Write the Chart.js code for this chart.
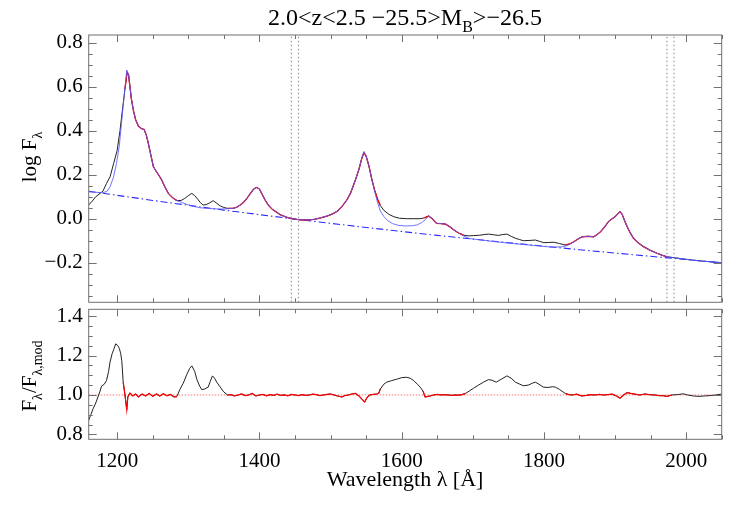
<!DOCTYPE html>
<html>
<head>
<meta charset="utf-8">
<script src="https://cdn.jsdelivr.net/npm/chart.js@4.4.1/dist/chart.umd.min.js"></script>
<style>
  html, body { margin: 0; padding: 0; background: #fff; }
  #wrap { position: relative; width: 736px; height: 507px; }
  #top { position: absolute; left: 0; top: 0; }
  #bot { position: absolute; left: 0; top: 305px; }
</style>
</head>
<body>
<div id="wrap">
  <canvas id="top" width="736" height="305"></canvas>
  <canvas id="bot" width="736" height="202"></canvas>
</div>
<script>
// composite spectrum (log F_lambda)
const specWave = [
  1160, 1165, 1170, 1176, 1180, 1185, 1190, 1195, 1200, 1204,
  1208, 1211, 1214, 1216, 1218, 1220, 1223, 1226, 1230, 1234,
  1238, 1241, 1244, 1248, 1251, 1256, 1262, 1267, 1272, 1278,
  1284, 1290, 1295, 1300, 1305, 1309, 1313, 1317, 1321, 1325,
  1329, 1335, 1340, 1345, 1350, 1355, 1363, 1368, 1373, 1378,
  1383, 1388, 1392, 1396, 1400, 1404, 1408, 1413, 1418, 1424,
  1430, 1437, 1443, 1452, 1462, 1470, 1477, 1485, 1495, 1503,
  1510, 1516, 1523, 1528, 1535, 1540, 1544, 1547, 1550, 1554,
  1558, 1562, 1566, 1570, 1575, 1582, 1589, 1597, 1607, 1617,
  1626, 1632, 1638, 1643, 1649, 1655, 1661, 1667, 1673, 1680,
  1687, 1694, 1701, 1710, 1716, 1722, 1729, 1736, 1742, 1748,
  1754, 1760, 1766, 1771, 1779, 1788, 1794, 1800, 1807, 1814,
  1822, 1830, 1836, 1842, 1848, 1854, 1862, 1870, 1875, 1880,
  1886, 1891, 1896, 1900, 1904, 1907, 1910, 1913, 1917, 1921,
  1926, 1932, 1940, 1949, 1959, 1966, 1973, 1985, 1996, 2008,
  2020, 2035, 2050
];
const specFlux = [
  0.062, 0.08, 0.10, 0.115, 0.125, 0.16, 0.19, 0.25, 0.31, 0.40,
  0.51, 0.59, 0.665, 0.655, 0.60, 0.545, 0.49, 0.45, 0.42, 0.41,
  0.405, 0.38, 0.34, 0.28, 0.236, 0.21, 0.18, 0.145, 0.115, 0.095,
  0.082, 0.083, 0.092, 0.105, 0.115, 0.105, 0.09, 0.073, 0.062, 0.064,
  0.07, 0.082, 0.07, 0.058, 0.051, 0.047, 0.047, 0.052, 0.062, 0.075,
  0.095, 0.118, 0.135, 0.142, 0.135, 0.11, 0.085, 0.06, 0.043, 0.03,
  0.017, 0.008, 0.002, -0.003, -0.006, -0.005, -0.003, 0.003, 0.012, 0.022,
  0.035, 0.055, 0.085, 0.115, 0.176, 0.225, 0.275, 0.30, 0.285, 0.24,
  0.18, 0.13, 0.09, 0.06, 0.038, 0.02, 0.009, 0.002, 0.0, 0.0,
  0.0, 0.004, 0.012, 0.0, -0.021, -0.022, -0.024, -0.035, -0.05, -0.065,
  -0.075, -0.078, -0.077, -0.075, -0.072, -0.07, -0.073, -0.076, -0.072, -0.07,
  -0.08, -0.089, -0.095, -0.10, -0.099, -0.097, -0.103, -0.109, -0.108, -0.107,
  -0.113, -0.12, -0.115, -0.105, -0.092, -0.082, -0.08, -0.082, -0.072, -0.058,
  -0.035, -0.012, 0.0, 0.009, 0.022, 0.032, 0.02, -0.005, -0.036, -0.062,
  -0.089, -0.108, -0.127, -0.143, -0.157, -0.166, -0.173, -0.178, -0.183, -0.188,
  -0.192, -0.196, -0.2
];

// full model (continuum + lines)
const modelWave = [
  1160, 1170, 1180, 1186, 1190, 1195, 1199, 1203, 1206, 1209,
  1211.5, 1213.5, 1216, 1218, 1220, 1223, 1226, 1230, 1234, 1238,
  1241, 1244, 1248, 1251, 1256, 1262, 1267, 1272, 1278, 1284,
  1290, 1298, 1306, 1316, 1326, 1336, 1346, 1355, 1363, 1368,
  1373, 1378, 1383, 1388, 1392, 1396, 1400, 1404, 1408, 1413,
  1418, 1424, 1430, 1437, 1443, 1452, 1462, 1470, 1477, 1485,
  1495, 1503, 1510, 1516, 1523, 1528, 1535, 1540, 1544, 1547,
  1550, 1554, 1558, 1562, 1566, 1570, 1575, 1580, 1587, 1595,
  1605, 1615, 1622, 1628, 1633, 1638, 1643, 1649, 1655, 1661,
  1667, 1673, 1680, 1687, 1695, 1710, 1730, 1750, 1770, 1790,
  1810, 1825, 1832, 1836, 1842, 1848, 1854, 1862, 1870, 1875,
  1880, 1886, 1891, 1896, 1900, 1904, 1907, 1910, 1913, 1917,
  1921, 1926, 1932, 1940, 1949, 1959, 1966, 1973, 1985, 1996,
  2008, 2020, 2035, 2050
];
const modelFlux = [
  0.122, 0.12, 0.118, 0.125, 0.145, 0.19, 0.25, 0.33, 0.43, 0.53,
  0.61, 0.676, 0.655, 0.60, 0.545, 0.49, 0.45, 0.42, 0.41, 0.405,
  0.38, 0.34, 0.28, 0.236, 0.21, 0.18, 0.145, 0.115, 0.095, 0.082,
  0.075, 0.065, 0.057, 0.05, 0.047, 0.045, 0.044, 0.045, 0.047, 0.052,
  0.062, 0.075, 0.095, 0.118, 0.135, 0.142, 0.135, 0.11, 0.085, 0.06,
  0.043, 0.03, 0.017, 0.008, 0.002, -0.003, -0.006, -0.005, -0.003, 0.003,
  0.012, 0.022, 0.035, 0.055, 0.085, 0.115, 0.176, 0.225, 0.275, 0.305,
  0.285, 0.24, 0.18, 0.125, 0.075, 0.035, 0.01, -0.008, -0.022, -0.03,
  -0.033, -0.032, -0.028, -0.018, -0.005, 0.012, 0.0, -0.021, -0.022, -0.024,
  -0.035, -0.05, -0.065, -0.078, -0.09, -0.096, -0.104, -0.111, -0.117, -0.123,
  -0.129, -0.128, -0.123, -0.117, -0.105, -0.092, -0.082, -0.08, -0.082, -0.072,
  -0.058, -0.035, -0.012, 0.0, 0.009, 0.022, 0.034, 0.02, -0.005, -0.036,
  -0.062, -0.089, -0.108, -0.127, -0.143, -0.157, -0.166, -0.173, -0.178, -0.183,
  -0.188, -0.192, -0.196, -0.2
];

// power-law continuum (dash-dot)
const contWave = [1160, 1250, 1350, 1450, 1550, 1650, 1750, 1850, 1950, 2050];
const contFlux = [0.125, 0.083, 0.039, -0.002, -0.04, -0.076, -0.109, -0.141, -0.171, -0.2];

// data / model ratio (lower panel)
const ratioWave = [
  1160, 1163, 1166.5, 1170, 1173.5, 1176, 1178, 1182, 1185, 1188,
  1190, 1193, 1195, 1198, 1201, 1203, 1205, 1206.5, 1208.5, 1211,
  1213.5, 1215, 1218, 1222, 1226, 1230, 1235, 1240, 1245, 1250,
  1255, 1260, 1265, 1270, 1275, 1280, 1284, 1288, 1293, 1298,
  1302, 1305, 1309, 1312, 1316, 1319, 1323, 1328, 1331, 1334,
  1337, 1340, 1345, 1349, 1355, 1360, 1365, 1370, 1375, 1380,
  1385, 1390, 1395, 1400, 1405, 1410, 1415, 1420, 1425, 1430,
  1435, 1440, 1445, 1450, 1455, 1460, 1465, 1470, 1475, 1480,
  1485, 1490, 1495, 1500, 1505, 1510, 1516, 1520, 1525, 1530,
  1535, 1540, 1545, 1548, 1551, 1555, 1560, 1565, 1568, 1570,
  1575, 1579, 1586, 1593, 1600, 1607, 1612, 1617, 1622, 1626,
  1630, 1633, 1637, 1640, 1645, 1650, 1655, 1660, 1665, 1670,
  1675, 1680, 1685, 1690, 1695, 1701, 1708, 1715, 1722, 1727,
  1733, 1740, 1748, 1754, 1760, 1766, 1771, 1778, 1784, 1788,
  1793, 1799, 1806, 1812, 1816, 1822, 1827, 1830, 1835, 1840,
  1846, 1853, 1860, 1866, 1872, 1878, 1884, 1890, 1896, 1902,
  1907, 1912, 1917, 1922, 1928, 1935, 1942, 1948, 1955, 1962,
  1968, 1973, 1980, 1988, 1996, 2002, 2010, 2018, 2026, 2034,
  2042, 2050
];
const ratioVal = [
  0.871, 0.90, 0.933, 0.96, 0.995, 1.02, 1.045, 1.055, 1.073, 1.12,
  1.167, 1.21, 1.229, 1.26, 1.25, 1.237, 1.21, 1.175, 1.065, 1.0,
  0.925, 0.99, 1.01, 0.995, 1.005, 0.99, 1.005, 0.995, 1.008, 0.993,
  1.005, 0.995, 1.006, 0.996, 1.003, 0.99, 0.992, 1.027, 1.06, 1.105,
  1.135, 1.148, 1.12, 1.08, 1.045, 1.027, 1.03, 1.04, 1.07, 1.097,
  1.085, 1.065, 1.04, 1.019, 1.0, 1.002, 0.995, 1.0, 1.005, 0.997,
  1.0, 1.008, 0.995, 1.0, 1.003, 0.996, 1.002, 0.998, 1.004, 0.998,
  1.0, 0.996, 1.003, 1.0, 0.997, 1.002, 0.998, 1.0, 1.004, 1.002,
  0.997, 1.0, 1.003, 1.005, 1.0, 0.995, 0.99, 0.997, 1.0, 1.005,
  1.008, 0.995, 0.975, 0.964, 0.985, 1.0, 1.003, 1.005, 1.01, 1.03,
  1.055, 1.065, 1.073, 1.08, 1.088, 1.09, 1.085, 1.073, 1.055, 1.04,
  1.02, 0.99, 0.993, 0.995, 1.0, 1.003, 1.0, 1.002, 1.0, 0.998,
  1.0, 0.999, 1.002, 1.008, 1.02, 1.034, 1.05, 1.065, 1.078, 1.075,
  1.065, 1.08, 1.097, 1.085, 1.065, 1.055, 1.047, 1.05, 1.06, 1.065,
  1.055, 1.04, 1.038, 1.042, 1.04, 1.028, 1.015, 1.008, 1.002, 1.0,
  1.004, 0.995, 0.998, 1.002, 1.0, 1.003, 1.0, 1.002, 1.004, 0.995,
  0.984, 1.0, 1.012, 1.008, 1.004, 1.0, 1.005, 1.002, 1.0, 0.997,
  0.996, 0.993, 1.0, 1.002, 1.006, 1.0, 0.995, 0.993, 0.995, 0.997,
  1.0, 1.005
];

// wavelength windows used in the fit (drawn red) and continuum windows (dotted)
const fitWindows = [[1208.5, 1284], [1355, 1570], [1630, 1690], [1830, 1982]];
const contWindowLines = [1445, 1455, 1973, 1983];

const xTicks = [1200, 1400, 1600, 1800, 2000];
const topTicks = [-0.2, 0.0, 0.2, 0.4, 0.6, 0.8];
const botTicks = [0.8, 1.0, 1.2, 1.4];

const X_MIN = 1160, X_MAX = 2050;
const TOP_MIN = -0.38, TOP_MAX = 0.835;
const BOT_MIN = 0.775, BOT_MAX = 1.435;

const SERIF = '"Liberation Serif", "Times New Roman", serif';

const pts = (xs, ys) => xs.map((x, i) => ({ x: x, y: ys[i] }));
const inFit = w => fitWindows.some(([a, b]) => w >= a && w <= b);
const fitOnly = (xs, ys) => xs.map((x, i) => ({ x: x, y: inFit(x) ? ys[i] : null }));
const fmt = v => v.toFixed(1).replace('-', '\u2212');

// no extra room for the end labels: the plot box is placed by hand
const fixWidth = w => s => { s.width = w; s.paddingTop = 0; s.paddingBottom = 0; };
const fixHeight = h => s => { s.height = h; s.paddingLeft = 0; s.paddingRight = 0; };

// draw a string made of normal / subscript pieces, centred on (x, y)
function richText(ctx, parts, x, y, size, vertical) {
  ctx.save();
  ctx.translate(x, y);
  if (vertical) ctx.rotate(-Math.PI / 2);
  ctx.fillStyle = '#000';
  ctx.textBaseline = 'alphabetic';
  ctx.textAlign = 'left';
  const fontOf = sub => (sub ? Math.round(size * 0.68) : size) + 'px ' + SERIF;
  let w = 0;
  parts.forEach(([t, sub]) => { ctx.font = fontOf(sub); w += ctx.measureText(t).width; });
  let cx = -w / 2;
  parts.forEach(([t, sub]) => {
    ctx.font = fontOf(sub);
    ctx.fillText(t, cx, sub ? size * 0.28 : 0);
    cx += ctx.measureText(t).width;
  });
  ctx.restore();
}

// IDL style box with inward ticks on all four sides
const boxTicks = {
  id: 'boxTicks',
  afterDatasetsDraw(chart) {
    const { ctx, chartArea: a } = chart;
    const x = chart.scales.x, y = chart.scales.y;
    ctx.save();
    ctx.strokeStyle = '#707070';
    ctx.lineWidth = 1;
    ctx.strokeRect(a.left, a.top, a.right - a.left, a.bottom - a.top);
    ctx.beginPath();
    for (let k = Math.ceil(x.min / 50); k * 50 <= x.max; k++) {
      const px = Math.round(x.getPixelForValue(k * 50)) + 0.5;
      const len = k % 4 === 0 ? 7 : 4;
      ctx.moveTo(px, a.bottom); ctx.lineTo(px, a.bottom - len);
      ctx.moveTo(px, a.top); ctx.lineTo(px, a.top + len);
    }
    for (let k = Math.ceil(y.min / 0.05 - 1e-6); k * 0.05 <= y.max + 1e-6; k++) {
      const py = Math.round(y.getPixelForValue(k * 0.05)) + 0.5;
      const len = k % 4 === 0 ? 8 : 4;
      ctx.moveTo(a.left, py); ctx.lineTo(a.left + len, py);
      ctx.moveTo(a.right, py); ctx.lineTo(a.right - len, py);
    }
    ctx.stroke();
    ctx.restore();
  }
};

const labelsTop = {
  id: 'labelsTop',
  afterDraw(chart) {
    const ctx = chart.ctx;
    richText(ctx, [['2.0<z<2.5 \u221225.5>M', false], ['B', true], ['>\u221226.5', false]], 405, 25, 24, false);
    richText(ctx, [['log F', false], ['\u03bb', true]], 36, 157, 21, true);
  }
};

const labelsBot = {
  id: 'labelsBot',
  afterDraw(chart) {
    const ctx = chart.ctx;
    richText(ctx, [['F', false], ['\u03bb', true], ['/F', false], ['\u03bb,mod', true]], 36, 71, 21, true);
    richText(ctx, [['Wavelength \u03bb [\u00c5]', false]], 405, 181, 22, false);
  }
};

const lineDs = (label, data, color, width, extra) => Object.assign({
  label: label,
  data: data,
  borderColor: color,
  borderWidth: width,
  pointRadius: 0,
  tension: 0,
  fill: false,
  spanGaps: false
}, extra || {});

const vLines = (ymin, ymax) => contWindowLines.map(w =>
  lineDs('win' + w, [{ x: w, y: ymin }, { x: w, y: ymax }], '#9a9a9a', 1.2, { borderDash: [1.5, 2.5] }));

// --- upper panel ---
new Chart(document.getElementById('top'), {
  type: 'line',
  data: {
    datasets: [
      lineDs('model', pts(modelWave, modelFlux), 'rgba(90,90,255,0.85)', 1),
      lineDs('fit', fitOnly(specWave, specFlux), '#ff0000', 1.3),
      lineDs('continuum', pts(contWave, contFlux), '#2a2aff', 1.1, { borderDash: [7, 3, 1.5, 3] }),
      lineDs('data', pts(specWave, specFlux), '#222222', 1),
      ...vLines(TOP_MIN, TOP_MAX)
    ]
  },
  options: {
    responsive: false,
    animation: false,
    devicePixelRatio: 1,
    layout: { padding: { left: 0, right: 14.3, top: 35, bottom: 2.7 } },
    plugins: { legend: { display: false }, tooltip: { enabled: false } },
    scales: {
      x: { type: 'linear', min: X_MIN, max: X_MAX, display: false },
      y: {
        min: TOP_MIN, max: TOP_MAX,
        afterFit: fixWidth(88.7),
        afterBuildTicks: s => { s.ticks = topTicks.map(v => ({ value: v })); },
        grid: { display: false, drawTicks: false },
        border: { display: false },
        ticks: { padding: 6, color: '#000', font: { family: SERIF, size: 21 }, callback: v => fmt(v) }
      }
    }
  },
  plugins: [boxTicks, labelsTop]
});

// --- lower panel (ratio) ---
new Chart(document.getElementById('bot'), {
  type: 'line',
  data: {
    datasets: [
      lineDs('fitRatio', fitOnly(ratioWave, ratioVal), '#ff0000', 1.2),
      lineDs('ratio', pts(ratioWave, ratioVal), '#222222', 1),
      lineDs('unity', [{ x: X_MIN, y: 1 }, { x: X_MAX, y: 1 }], 'rgba(255,60,60,0.7)', 1, { borderDash: [1.5, 1.5] })
    ]
  },
  options: {
    responsive: false,
    animation: false,
    devicePixelRatio: 1,
    layout: { padding: { left: 0, right: 14.3, top: 4.3, bottom: 0 } },
    plugins: { legend: { display: false }, tooltip: { enabled: false } },
    scales: {
      x: {
        type: 'linear', min: X_MIN, max: X_MAX,
        afterFit: fixHeight(67.7),
        afterBuildTicks: s => { s.ticks = xTicks.map(v => ({ value: v })); },
        grid: { display: false, drawTicks: false },
        border: { display: false },
        ticks: { padding: 10, maxRotation: 0, color: '#000', font: { family: SERIF, size: 21 }, callback: v => String(v) }
      },
      y: {
        min: BOT_MIN, max: BOT_MAX,
        afterFit: fixWidth(88.7),
        afterBuildTicks: s => { s.ticks = botTicks.map(v => ({ value: v })); },
        grid: { display: false, drawTicks: false },
        border: { display: false },
        ticks: { padding: 6, color: '#000', font: { family: SERIF, size: 21 }, callback: v => fmt(v) }
      }
    }
  },
  plugins: [boxTicks, labelsBot]
});
</script>
</body>
</html>
